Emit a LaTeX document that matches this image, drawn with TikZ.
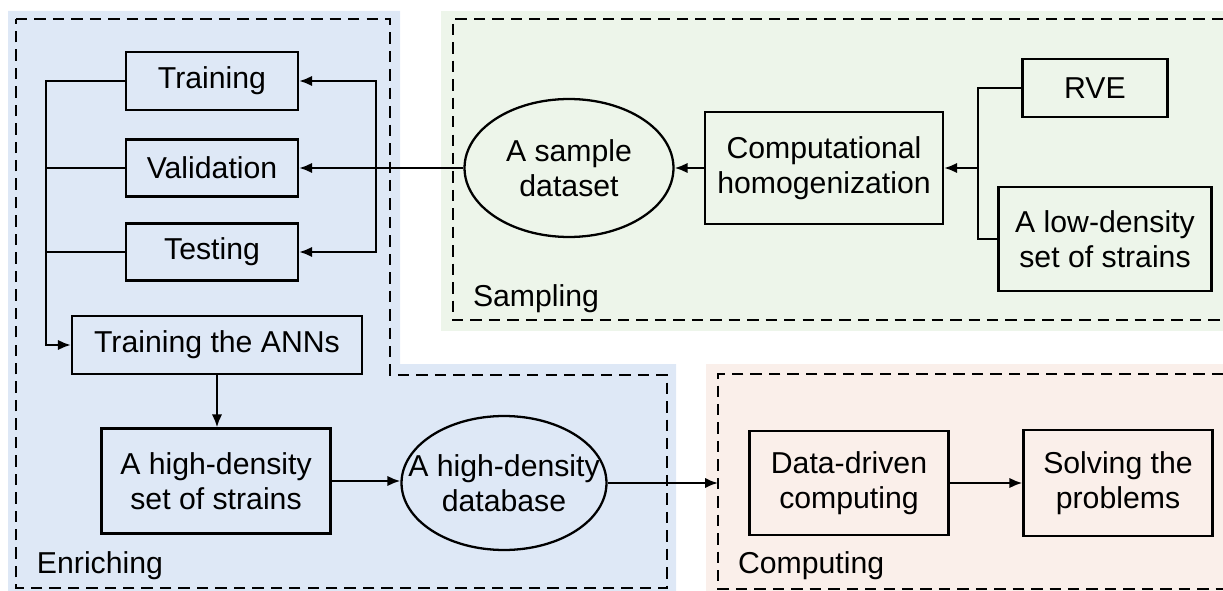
\documentclass[tikz,border=0pt]{standalone}
\usepackage{fontspec}
\setmainfont{Liberation Sans}
\usepackage{tikz}
\usetikzlibrary{arrows.meta,shapes.geometric}

\definecolor{enrichblue}{RGB}{222,232,246}
\definecolor{samplegreen}{RGB}{237,245,234}
\definecolor{computepink}{RGB}{250,239,234}

\begin{document}
\begin{tikzpicture}[x=0.02cm, y=-0.02cm, line width=1.3pt,
  font=\fontsize{17.2}{20}\selectfont,
  box/.style={draw, rectangle, align=center, inner sep=0pt},
  oval/.style={draw, ellipse, align=center, inner xsep=-14pt, inner ysep=0pt},
  arr/.style={-{Latex[length=2.6mm,width=2.1mm]}},
  group/.style={dash pattern=on 6.5pt off 4pt}]
\useasboundingbox (0,0) rectangle (1223,591);
% enriching
\fill[enrichblue] (8,11) -- (400,11) -- (400,364) -- (676,364) -- (676,591) -- (8,591) -- cycle;
\draw[group] (16,19) -- (390,19) -- (390,375) -- (667,375) -- (667,588) -- (16,588) -- cycle;
\node[anchor=base west] (enrichlbl) at (30,573) {Enriching};
% sampling
\fill[samplegreen] (441,11) rectangle (1223,331);
\draw[group] (1223,19) -- (453,19) -- (453,320) -- (1223,320);
\node[anchor=base west] (samplelbl) at (466,306) {Sampling};
% computing
\fill[computepink] (706,364) rectangle (1223,591);
\draw[group] (1223,374) -- (718,374) -- (718,589) -- (1223,589);
\node[anchor=base west] (computelbl) at (731,573) {Computing};

% nodes
\node[box, minimum width=3.44cm, minimum height=1.16cm] (train) at (212,81) {Training};
\node[box, minimum width=3.44cm, minimum height=1.14cm] (valid) at (212,168) {Validation};
\node[box, minimum width=3.44cm, minimum height=1.14cm] (test) at (212,252) {Testing};
\node[box, minimum width=5.8cm, minimum height=1.16cm] (anns) at (217,345) {Training the ANNs};
\node[box, minimum width=4.58cm, minimum height=2.1cm] (hdset) at (216,481) {A high-density\\set of strains};
\node[oval, minimum width=4.1cm, minimum height=2.68cm] (hdbase) at (504,483) {A high-density\\database};
\node[oval, minimum width=4.18cm, minimum height=2.76cm] (sample) at (569,168) {A sample\\dataset};
\node[box, minimum width=4.76cm, minimum height=2.24cm] (comphom) at (824,168) {Computational\\homogenization};
\node[box, minimum width=2.9cm, minimum height=1.16cm] (rve) at (1095,88) {RVE};
\node[box, minimum width=4.26cm, minimum height=2.08cm] (lowset) at (1105,239) {A low-density\\set of strains};
\node[box, minimum width=3.98cm, minimum height=2.08cm] (ddc) at (849,483) {Data-driven\\computing};
\node[box, minimum width=3.78cm, minimum height=2.12cm] (solve) at (1118,483) {Solving the\\problems};

% bus points
\coordinate (lbus) at (46,81);
\coordinate (rbus) at (376,168);
\coordinate (hbus) at (978,168);
\coordinate (cmpin) at (718,483);

% connectors
\draw[arr] (train.west) -| (lbus) |- (anns.west);
\draw (valid.west) -- (valid.west -| lbus);
\draw (test.west) -- (test.west -| lbus);
\draw[arr] (sample.west) -- (valid.east);
\draw[arr] (rbus) |- (train.east);
\draw[arr] (rbus) |- (test.east);
\draw[arr] (anns.south) -- (anns.south |- hdset.north);
\draw[arr] (hdset.east) -- (hdset.east -| hdbase.west);
\draw[arr] (hdbase.east) -- (cmpin);
\draw[arr] (comphom.west) -- (sample.east);
\draw (rve.west) -| (hbus) |- (lowset.west);
\draw[arr] (hbus) -- (comphom.east);
\draw[arr] (ddc.east) -- (ddc.east -| solve.west);
\end{tikzpicture}
\end{document}
